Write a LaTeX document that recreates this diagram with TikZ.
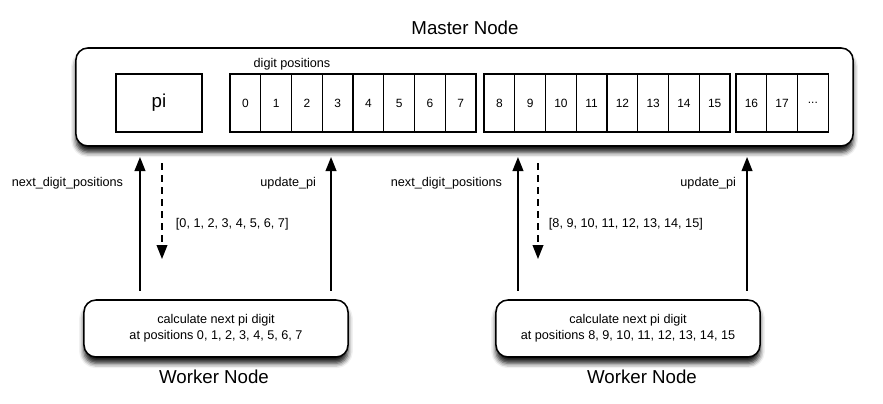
\documentclass[tikz,border=0pt]{standalone}
\usepackage{fontspec}
\setmainfont{Liberation Sans}
\usetikzlibrary{positioning,arrows.meta,shadows.blur}

\begin{document}
\begin{tikzpicture}[x=0.025cm, y=-0.025cm,
  every node/.style={font=\fontsize{9}{11.3}\selectfont},
  bigtext/.style={font=\fontsize{13.3}{16}\selectfont},
  hostbox/.style={draw, line width=1.1pt, rounded corners=0.3cm, fill=white, outer sep=0pt,
    blur shadow={shadow xshift=0pt, shadow yshift=-0.16cm, shadow blur radius=0.12cm, shadow opacity=90}},
  cell/.style={draw, line width=0.8pt, rectangle, minimum width=0.77cm, minimum height=1.45cm,
    outer sep=0pt, font=\fontsize{8.5}{10}\selectfont},
  msg/.style={line width=1pt, -{Triangle[length=0.35cm, width=0.27cm]}, shorten <=0.225cm, shorten >=0.275cm},
  reply/.style={msg, dash pattern=on 0.175cm off 0.125cm, shorten <=0.425cm, shorten >=0pt}]
  \useasboundingbox (0,0) rectangle (883,403);

  % master node
  \node[bigtext] (mtitle) at (465,28) {Master Node};
  \node[hostbox, minimum width=19.425cm, minimum height=2.45cm] (master) at (464.5,97) {};
  \node[cell, bigtext, minimum width=2.15cm] (pi) at (159,103) {pi};
  \node (dlabel) at (292,64) {digit positions};
  \foreach \i in {0,...,7}
    \node[cell] (d\i) at (245.4+30.75*\i,103) {\i};
  \foreach \i in {8,...,15}
    \node[cell] (d\i) at (499.4+30.75*\i-246,103) {\i};
  \node[cell] (d16) at (751.4,103) {16};
  \node[cell] (d17) at (782.1,103) {17};
  \node[cell] (dots) at (812.9,103) {...};

  % worker nodes
  \node[hostbox, minimum width=6.6cm, minimum height=1.425cm, align=center] (w1) at (216,328.5)
    {calculate next pi digit\\at positions 0, 1, 2, 3, 4, 5, 6, 7};
  \node[hostbox, minimum width=6.6cm, minimum height=1.425cm, align=center] (w2) at (628,328.5)
    {calculate next pi digit\\at positions 8, 9, 10, 11, 12, 13, 14, 15};
  \node[bigtext] (wtitle1) at (214,377) {Worker Node};
  \node[bigtext] (wtitle2) at (642,377) {Worker Node};

  % messages
  \coordinate (q1) at (162,259);
  \coordinate (q2) at (538,259);
  \draw[msg] ([xshift=-1.9cm]w1.north) -- ([xshift=-1.9cm]w1.north |- master.south);
  \draw[reply] (q1 |- master.south) -- (q1);
  \draw[msg] ([xshift=2.875cm]w1.north) -- ([xshift=2.875cm]w1.north |- master.south);
  \draw[msg] ([xshift=-2.75cm]w2.north) -- ([xshift=-2.75cm]w2.north |- master.south);
  \draw[reply] (q2 |- master.south) -- (q2);
  \draw[msg] ([xshift=2.975cm]w2.north) -- ([xshift=2.975cm]w2.north |- master.south);

  \node[anchor=east] (n1) at (128,183) {next\_digit\_positions};
  \node[anchor=east] (u1) at (321,183) {update\_pi};
  \node[anchor=west] (p1) at (171,224) {[0, 1, 2, 3, 4, 5, 6, 7]};
  \node[anchor=east] (n2) at (507,183) {next\_digit\_positions};
  \node[anchor=east] (u2) at (741,183) {update\_pi};
  \node[anchor=west] (p2) at (544,224) {[8, 9, 10, 11, 12, 13, 14, 15]};
\end{tikzpicture}
\end{document}
